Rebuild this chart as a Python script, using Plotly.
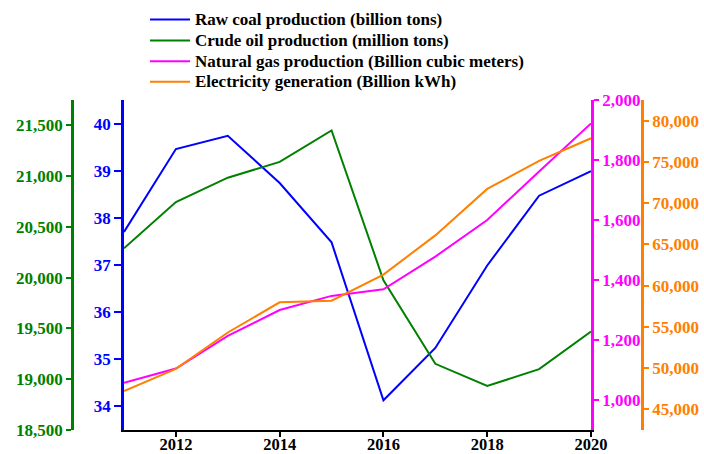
import plotly.graph_objects as go

years = [2011, 2012, 2013, 2014, 2015, 2016, 2017, 2018, 2019, 2020]
coal = [37.70, 39.46, 39.74, 38.74, 37.48, 34.13, 35.24, 36.99, 38.47, 38.99]
oil = [20290, 20745, 20985, 21140, 21450, 19975, 19152, 18933, 19100, 19470]
gas = [1057, 1105, 1214, 1300, 1347, 1369, 1478, 1600, 1762, 1922]
elec = [47227, 49904, 54322, 57973, 58180, 61344, 66090, 71725, 75132, 77859]

names = ["Raw coal production (billion tons)",
         "Crude oil production (million tons)",
         "Natural gas production (Billion cubic meters)",
         "Electricity generation (Billion kWh)"]

BLUE = "#0000FF"
GREEN = "#008000"
MAG = "#FF00FF"
ORA = "#FF8000"
colors = [BLUE, GREEN, MAG, ORA]
FONT = "Liberation Serif"
FS = 17

W, H = 704, 454
x0, x1 = 124 / W, 591 / W
y0, y1 = (H - 430) / H, (H - 100) / H

fig = go.Figure()
for vals, nm, c, ax in zip([coal, oil, gas, elec], names, colors,
                           ["y", "y2", "y3", "y4"]):
    fig.add_trace(go.Scatter(x=years, y=vals, name=nm, mode="lines",
                             line=dict(color=c, width=2), yaxis=ax))

tickfont = lambda c, s=FS: dict(family=FONT, size=s, color=c, weight="bold")

def yax(color, rng, dtick, ticklen=6, **kw):
    d = dict(range=rng, dtick=dtick, showgrid=False, zeroline=False,
             showline=True, linecolor=color, linewidth=2.5,
             ticks="outside", tickcolor=color, ticklen=ticklen, tickwidth=2,
             tickfont=tickfont(color), tickformat=",d", automargin=False)
    d.update(kw)
    return d

# manual legend (compact row spacing as in the reference)
legend_rows = [19.5, 40.5, 61.2, 81.8]
shapes, annots = [], []
for nm, c, ry in zip(names, colors, legend_rows):
    yp = 1 - ry / H
    shapes.append(dict(type="line", xref="paper", yref="paper",
                       x0=150 / W, x1=190 / W, y0=yp, y1=yp,
                       line=dict(color=c, width=2)))
    annots.append(dict(xref="paper", yref="paper", x=193 / W, y=yp,
                       xanchor="left", yanchor="middle", showarrow=False,
                       text=nm, font=dict(family=FONT, size=FS,
                                          color="black", weight="bold")))

fig.update_layout(
    width=W, height=H,
    margin=dict(l=0, r=0, t=0, b=0),
    paper_bgcolor="white", plot_bgcolor="white",
    showlegend=False,
    shapes=shapes, annotations=annots,
    xaxis=dict(domain=[x0, x1], range=[2011, 2020], dtick=2, tick0=2012,
               showgrid=False, zeroline=False, showline=True,
               linecolor="black", linewidth=2, ticks="outside",
               tickcolor="black", ticklen=5, tickwidth=2,
               tickfont=tickfont("black", 16.5), automargin=False,
               ticklabelstandoff=-7),
    yaxis=yax(BLUE, [33.5, 40.5], 1, ticklen=7, domain=[y0, y1], anchor="x",
              side="left", tickformat="d"),
    yaxis2=yax(GREEN, [18500, 21750], 500, ticklen=5, overlaying="y",
               side="left", anchor="free", position=72 / W),
    yaxis3=yax(MAG, [900, 2000], 200, ticklen=5, overlaying="y",
               side="right", anchor="x"),
    yaxis4=yax(ORA, [42500, 82500], 5000, ticklen=5, overlaying="y",
               side="right", anchor="free", position=642 / W),
)

fig.write_html("out.html")
